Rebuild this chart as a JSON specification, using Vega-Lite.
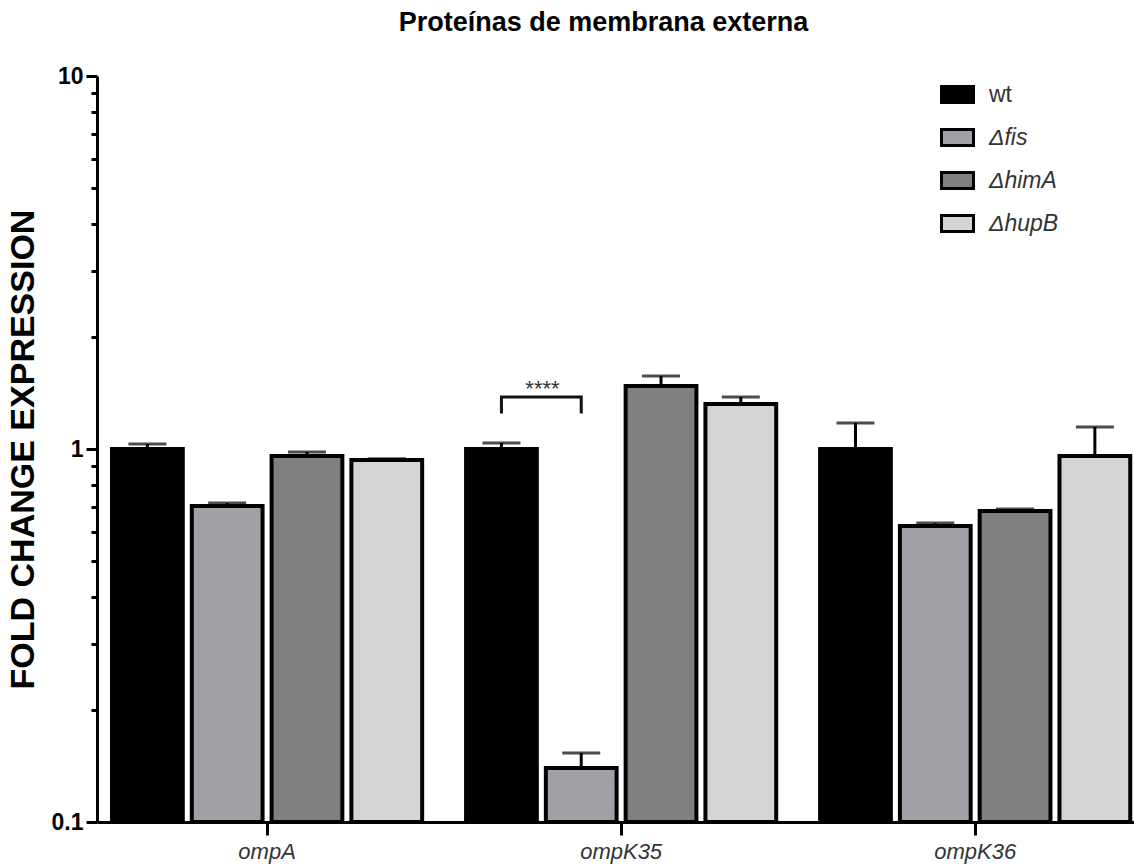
{
  "$schema": "https://vega.github.io/schema/vega-lite/v6.json",
  "width": 1037,
  "height": 746,
  "autosize": {"type": "none"},
  "padding": {"left": 97, "top": 76, "right": 0, "bottom": 45},
  "background": "white",
  "title": {"text": "Proteínas de membrana externa", "fontSize": 27, "font": "Liberation Sans", "fontWeight": "bold", "color": "#000000", "anchor": "middle", "dx": -12, "offset": 28},
  "config": {"view": {"stroke": null}, "font": "Liberation Sans"},
  "datasets": {
    "bars": [
      {"gene": "ompA", "strain": "wt", "value": 1.0, "upper": 1.031},
      {"gene": "ompA", "strain": "Δfis", "value": 0.703, "upper": 0.717},
      {"gene": "ompA", "strain": "ΔhimA", "value": 0.958, "upper": 0.982},
      {"gene": "ompA", "strain": "ΔhupB", "value": 0.934, "upper": 0.942},
      {"gene": "ompK35", "strain": "wt", "value": 1.0, "upper": 1.038},
      {"gene": "ompK35", "strain": "Δfis", "value": 0.1396, "upper": 0.153},
      {"gene": "ompK35", "strain": "ΔhimA", "value": 1.475, "upper": 1.57},
      {"gene": "ompK35", "strain": "ΔhupB", "value": 1.32, "upper": 1.378},
      {"gene": "ompK36", "strain": "wt", "value": 1.0, "upper": 1.174},
      {"gene": "ompK36", "strain": "Δfis", "value": 0.622, "upper": 0.633},
      {"gene": "ompK36", "strain": "ΔhimA", "value": 0.682, "upper": 0.69},
      {"gene": "ompK36", "strain": "ΔhupB", "value": 0.958, "upper": 1.146}
    ],
    "bracket": [
      {"gene": "ompK35", "strain": "wt", "value": 1.257, "ord": 1},
      {"gene": "ompK35", "strain": "wt", "value": 1.378, "ord": 2},
      {"gene": "ompK35", "strain": "Δfis", "value": 1.378, "ord": 3},
      {"gene": "ompK35", "strain": "Δfis", "value": 1.257, "ord": 4}
    ],
    "stars": [
      {"gene": "ompK35", "strain": "wt", "value": 1.385, "label": "****"}
    ]
  },
  "layer": [
    {
      "data": {"name": "bars"},
      "mark": {"type": "bar", "stroke": "black", "strokeWidth": 4, "strokeJoin": "miter"},
      "encoding": {
        "x": {"field": "gene", "type": "nominal", "sort": ["ompA", "ompK35", "ompK36"], "title": null,
          "scale": {"paddingInner": 0.124, "paddingOuter": 0.0265, "align": 0.8},
          "axis": {"labelFontSize": 22, "labelFontStyle": "italic", "labelColor": "#333333", "labelFont": "Liberation Sans", "labelAngle": 0, "tickSize": 13, "tickWidth": 3, "tickColor": "black", "domainWidth": 3, "domainColor": "black", "labelPadding": 6, "grid": false}},
        "xOffset": {"field": "strain", "type": "nominal", "sort": ["wt", "Δfis", "ΔhimA", "ΔhupB"], "scale": {"paddingInner": 0.113, "paddingOuter": 0}},
        "y": {"field": "value", "type": "quantitative", "title": "FOLD CHANGE EXPRESSION",
          "scale": {"type": "log", "domain": [0.1, 10], "nice": false},
          "axis": {"values": [0.1, 0.2, 0.3, 0.4, 0.5, 0.6, 0.7, 0.8, 0.9, 1, 2, 3, 4, 5, 6, 7, 8, 9, 10],
            "labelExpr": "datum.value == 0.1 ? '0.1' : (datum.value == 1 ? '1' : (datum.value == 10 ? '10' : ''))",
            "labelFontSize": 23, "labelFontWeight": "bold", "labelColor": "black", "labelFont": "Liberation Sans", "labelPadding": 3,
            "tickSize": {"condition": {"test": "datum.value == 0.1 || datum.value == 1 || datum.value == 10", "value": 11}, "value": 6},
            "tickWidth": 3, "tickColor": "black", "domainWidth": 3, "domainColor": "black", "grid": false,
            "titleFontSize": 34, "titleFont": "Liberation Sans", "titleFontWeight": "bold", "titleColor": "black",
            "titleX": -64, "titleY": 373, "titleBaseline": "alphabetic", "titleAngle": -90, "titleAlign": "center"}},
        "y2": {"datum": 0.1},
        "color": {"field": "strain", "type": "nominal", "sort": ["wt", "Δfis", "ΔhimA", "ΔhupB"],
          "scale": {"domain": ["wt", "Δfis", "ΔhimA", "ΔhupB"], "range": ["#000000", "#a0a0a6", "#808080", "#d4d4d4"]},
          "legend": {"title": null, "orient": "none", "legendX": 843, "legendY": 1, "padding": 0,
            "symbolType": "M-1,-0.5H1V0.5H-1Z", "symbolSize": 1024, "symbolStrokeColor": "black", "symbolStrokeWidth": 3, "symbolOpacity": 1,
            "labelFontSize": 23, "labelColor": "#333333", "labelFont": "Liberation Sans", "rowPadding": 11, "labelOffset": 14,
            "encode": {"labels": {"update": {"fontStyle": {"signal": "datum.label === 'wt' ? 'normal' : 'italic'"}}}}}}
      }
    },
    {
      "data": {"name": "bars"},
      "mark": {"type": "rule", "color": "black", "strokeWidth": 3},
      "encoding": {
        "x": {"field": "gene", "type": "nominal", "sort": ["ompA", "ompK35", "ompK36"], "title": null},
        "xOffset": {"field": "strain", "type": "nominal", "sort": ["wt", "Δfis", "ΔhimA", "ΔhupB"]},
        "y": {"field": "value", "type": "quantitative", "title": "FOLD CHANGE EXPRESSION"},
        "y2": {"field": "upper"}
      }
    },
    {
      "data": {"name": "bars"},
      "mark": {"type": "tick", "color": "black", "thickness": 3, "size": 38, "orient": "horizontal"},
      "encoding": {
        "x": {"field": "gene", "type": "nominal", "sort": ["ompA", "ompK35", "ompK36"], "title": null},
        "xOffset": {"field": "strain", "type": "nominal", "sort": ["wt", "Δfis", "ΔhimA", "ΔhupB"]},
        "y": {"field": "upper", "type": "quantitative", "title": "FOLD CHANGE EXPRESSION"}
      }
    },
    {
      "data": {"name": "bracket"},
      "mark": {"type": "line", "color": "#111111", "strokeWidth": 3, "strokeCap": "square", "strokeJoin": "miter"},
      "encoding": {
        "x": {"field": "gene", "type": "nominal", "sort": ["ompA", "ompK35", "ompK36"], "title": null},
        "xOffset": {"field": "strain", "type": "nominal", "sort": ["wt", "Δfis", "ΔhimA", "ΔhupB"]},
        "y": {"field": "value", "type": "quantitative", "title": "FOLD CHANGE EXPRESSION"},
        "order": {"field": "ord", "type": "quantitative"}
      }
    },
    {
      "data": {"name": "stars"},
      "mark": {"type": "text", "fontSize": 22, "color": "#333333", "baseline": "alphabetic", "align": "center", "dx": 41},
      "encoding": {
        "x": {"field": "gene", "type": "nominal", "sort": ["ompA", "ompK35", "ompK36"], "title": null},
        "xOffset": {"field": "strain", "type": "nominal", "sort": ["wt", "Δfis", "ΔhimA", "ΔhupB"]},
        "y": {"field": "value", "type": "quantitative", "title": "FOLD CHANGE EXPRESSION"},
        "text": {"field": "label"}
      }
    }
  ]
}
